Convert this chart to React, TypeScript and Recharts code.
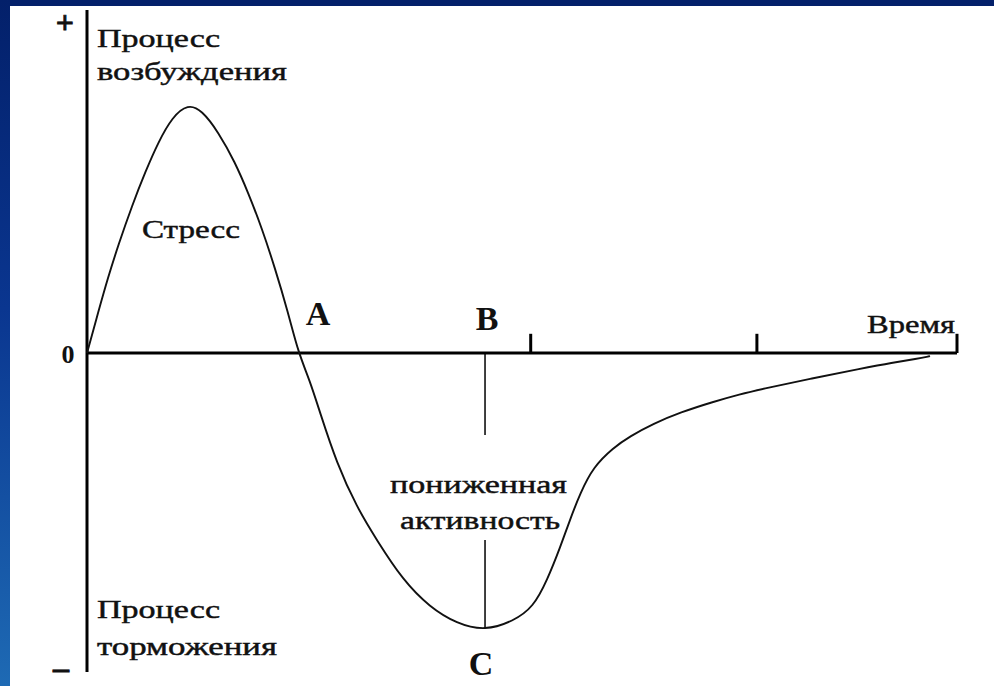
import React from "react";
import { LineChart, Line, XAxis, YAxis, ReferenceLine, ReferenceDot } from "recharts";

// time (arbitrary units, 0..100) and activity level (+ excitation / − inhibition)
const timeValues = [
  0, 1.3, 2.4, 3.6, 5.2, 6.7, 8.2, 9.8, 11.6, 13.2, 15.1, 17.0, 18.5, 20.1, 21.6, 23.1, 24.3,
  25.6, 26.8, 28.7, 31.0, 33.3, 36.3, 39.4, 42.5, 45.75, 49.0, 51.3, 52.9, 54.4, 55.5, 56.7,
  58.2, 60.5, 62.4, 65.1, 68.2, 72.0, 75.1, 77.4, 83.1, 88.9, 92.6, 95.4, 96.9,
];
const activityValues = [
  0, 12.0, 21.9, 31.5, 43.1, 52.8, 61.5, 68.8, 72.6, 70.8, 64.4, 55.7, 46.9, 36.4, 24.8, 12.0, 0,
  -7.9, -17.5, -32.1, -44.9, -54.5, -66.2, -74.1, -78.9, -81.0, -78.2, -74.1, -66.2, -56.6, -48.7, -40.8,
  -33.2, -27.6, -24.3, -20.6, -17.3, -14.2, -12.0, -10.6, -7.5, -4.6, -2.8, -1.7, -0.9,
];

// axis ticks on the time axis
const timeTicks = [51, 77, 100];
const tickHeight = 5.6;

// axes extents
const xDomain: [number, number] = [0, 100];
const yDomain: [number, number] = [-93, 100];

// marker B–C
const pointBx = 45.75;
const markerUpper: [number, number] = [0, -23.9];
const markerLower: [number, number] = [-54.5, -80.2];

// text labels: [text, x, y, length]
const wordLabels: [string, number, number, number][] = [
  ["Процесс", 1.15, 89.2, 123],
  ["возбуждения", 1.15, 79.6, 190],
  ["Стресс", 6.32, 33.5, 98],
  ["Время", 89.66, 5.8, 88],
  ["пониженная", 34.83, -40.8, 177],
  ["активность", 35.98, -51.3, 160],
  ["Процесс", 1.15, -77.3, 123],
  ["торможения", 1.15, -88.0, 180],
];
const letterLabels: [string, number, number][] = [
  ["A", 26.55, 8.2],
  ["B", 45.98, 6.7],
  ["C", 45.29, -93.9],
];
const signLabels: [string, number, number][] = [
  ["+", -2.53, 96.5],
  ["0", -2.18, -0.3],
  ["–", -2.99, -91.5],
];

const data = timeValues.map((t, i) => ({ t, v: activityValues[i] }));

const SERIF = '"Liberation Serif", "DejaVu Serif", "Times New Roman", serif';

export default function App() {
  return (
    <div
      style={{
        position: "absolute",
        left: 0,
        top: 0,
        width: 994,
        height: 686,
        background: "#ffffff",
        overflow: "hidden",
      }}
    >
      <div
        style={{
          position: "absolute",
          left: 0,
          top: 0,
          width: 994,
          height: 6,
          background: "#03206a",
        }}
      />
      <div
        style={{
          position: "absolute",
          left: 0,
          top: 0,
          width: 10,
          height: 686,
          background: "linear-gradient(to bottom, #03206a 0%, #0a3690 45%, #1e6ab4 100%)",
        }}
      />
      <div style={{ position: "absolute", left: 0, top: 0 }}>
        <LineChart
          width={994}
          height={686}
          data={data}
          margin={{ top: 10, right: 37, bottom: 14, left: 87 }}
        >
          <XAxis type="number" dataKey="t" domain={xDomain} hide />
          <YAxis type="number" domain={yDomain} hide />
          <ReferenceLine
            segment={[{ x: 0, y: yDomain[0] }, { x: 0, y: yDomain[1] }]}
            stroke="#000"
            strokeWidth={3}
            ifOverflow="visible"
          />
          <ReferenceLine
            segment={[{ x: 0, y: 0 }, { x: 100, y: 0 }]}
            stroke="#000"
            strokeWidth={3}
            ifOverflow="visible"
          />
          {timeTicks.map((tk) => (
            <ReferenceLine
              key={"tk" + tk}
              segment={[{ x: tk, y: 0 }, { x: tk, y: tickHeight }]}
              stroke="#000"
              strokeWidth={3}
              ifOverflow="visible"
            />
          ))}
          <ReferenceLine
            segment={[{ x: pointBx, y: markerUpper[0] }, { x: pointBx, y: markerUpper[1] }]}
            stroke="#000"
            strokeWidth={1.5}
            ifOverflow="visible"
          />
          <ReferenceLine
            segment={[{ x: pointBx, y: markerLower[0] }, { x: pointBx, y: markerLower[1] }]}
            stroke="#000"
            strokeWidth={1.5}
            ifOverflow="visible"
          />
          <Line
            type="basis"
            dataKey="v"
            stroke="#111"
            strokeWidth={1.9}
            dot={false}
            isAnimationActive={false}
          />
          {wordLabels.map(([txt, x, y, len], i) => (
            <ReferenceDot
              key={"w" + i}
              x={x}
              y={y}
              r={0}
              ifOverflow="visible"
              shape={(p: any) => (
                <text
                  x={p.cx}
                  y={p.cy}
                  textAnchor="start"
                  fontFamily={SERIF}
                  fontSize={26}
                  fill="#111"
                  stroke="#111"
                  strokeWidth={0.45}
                  textLength={len}
                  lengthAdjust="spacingAndGlyphs"
                >
                  {txt}
                </text>
              )}
            />
          ))}
          {letterLabels.map(([txt, x, y], i) => (
            <ReferenceDot
              key={"l" + i}
              x={x}
              y={y}
              r={0}
              ifOverflow="visible"
              shape={(p: any) => (
                <text
                  x={p.cx}
                  y={p.cy}
                  textAnchor="middle"
                  fontFamily={SERIF}
                  fontWeight="bold"
                  fontSize={34}
                  fill="#111"
                >
                  {txt}
                </text>
              )}
            />
          ))}
          {signLabels.map(([txt, x, y], i) => (
            <ReferenceDot
              key={"s" + i}
              x={x}
              y={y}
              r={0}
              ifOverflow="visible"
              shape={(p: any) => (
                <text
                  x={p.cx}
                  y={p.cy}
                  textAnchor="middle"
                  dominantBaseline="central"
                  fontFamily={SERIF}
                  fontWeight="bold"
                  fontSize={txt === "0" ? 26 : 32}
                  fill="#111"
                  stroke="#111"
                  strokeWidth={txt === "0" ? 0 : 0.8}
                >
                  {txt}
                </text>
              )}
            />
          ))}
        </LineChart>
      </div>
    </div>
  );
}
